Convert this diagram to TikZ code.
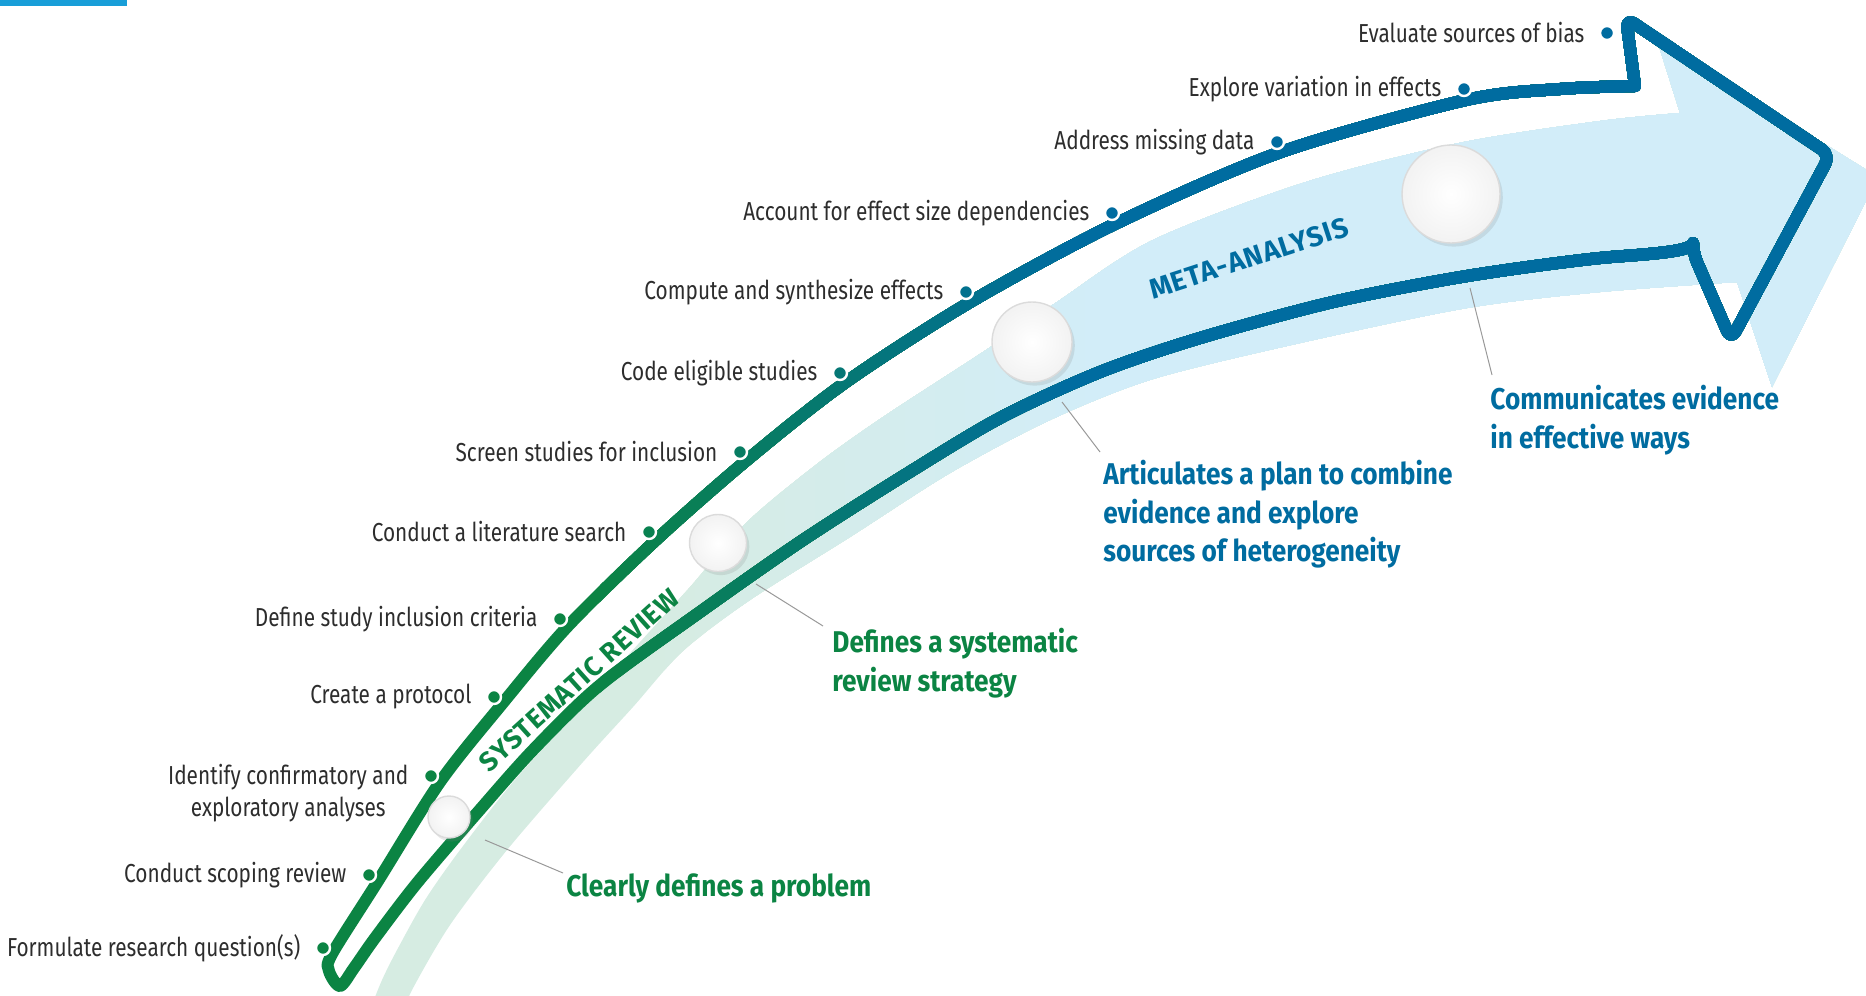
\documentclass[tikz,border=0pt]{standalone}
\usepackage{fontspec}
\setmainfont{Fira Sans}
\newfontfamily\stepfont{Fira Sans}[FakeStretch=0.8]
\newfontfamily\goalfont{Fira Sans}[FakeStretch=0.875]
\newfontfamily\phasefont{Fira Sans}[LetterSpace=3]
\usetikzlibrary{positioning,shadows}

\definecolor{srgreen}{RGB}{11,132,67}
\definecolor{mablue}{RGB}{0,108,160}
\definecolor{bandgreen}{RGB}{214,236,226}
\definecolor{bandblue}{RGB}{210,237,249}
\definecolor{topbar}{RGB}{24,158,216}
\definecolor{steptext}{RGB}{45,45,45}

% light band behind the arrow
\newcommand{\bandshape}{(370,1010) -- plot[smooth] coordinates {(370,1010) (382,980) (397,950) (425,900) (460,850) (513,782) (577,712) (640,642) (690,587) (747,522) (817,464) (883,417) (983,352) (1057,302) (1153,240) (1306,182) (1459,143) (1600,121) (1680,113)} -- (1657,40) -- (1878,177) -- (1772,387) -- (1737,282) -- plot[smooth] coordinates {(1737,282) (1600,292) (1467,308) (1300,343) (1153,379) (1050,420) (950,473) (850,537) (750,600) (683,651) (633,707) (583,762) (507,850) (450,925) (412,990) (405,1010)} -- cycle}
% outline of the arrow
\newcommand{\arrowline}{plot[smooth] coordinates {(1693,253) (1600,258) (1467,276) (1333,302) (1200,338) (1100,372) (1000,418) (900,478) (800,542) (700,612) (600,685) (533,750) (477,813) (417,883) (375,938) (354,968) (340,986) (329,971) (332,954) (378,881) (440,782) (502,704) (568,626) (656,540) (747,460) (846,382) (972,301) (1117,223) (1281,152) (1466,100) (1560,89) (1635,86)} [rounded corners=5pt] -- (1626,18) -- (1830,155) -- (1731,340) -- cycle}

\tikzset{
	stepdot/.style={circle, fill=#1, draw=white, line width=1.2pt, minimum size=7pt, inner sep=0pt},
	steplabel/.style={font=\stepfont\fontsize{13}{16}\selectfont, text=steptext, inner sep=0pt},
	goal/.style={font=\goalfont\bfseries\fontsize{15}{19.25}\selectfont, text=#1, inner sep=0pt, align=left},
	phase/.style={font=\phasefont\bfseries\fontsize{13.5}{15}\selectfont, text=#1, inner sep=0pt},
	milestone/.style={circle, draw=black!14, line width=0.7pt, inner color=white, outer color=black!5, inner sep=0pt, minimum size=#1, drop shadow={shadow xshift=1.4pt, shadow yshift=-1.8pt, opacity=0.18}},
	leader/.style={draw=black!40, line width=0.5pt}
}

\begin{document}
\begin{tikzpicture}[x=0.5pt,y=-0.5pt]
	\useasboundingbox (0,0) rectangle (1866,995);
	\clip (0,0) rectangle (1866,995);
	\fill[topbar] (0,0) rectangle (127,6);

	% band, green to blue from left to right
	\fill[bandgreen] \bandshape;
	\foreach \i in {1,...,30}{
		\pgfmathsetmacro\pc{100*\i/30}
		\begin{scope}
			\clip (650+15*\i,-20) rectangle (1900,1020);
			\fill[bandblue!\pc!bandgreen] \bandshape;
		\end{scope}
	}

	% arrow outline, same colour change
	\draw[srgreen, line width=6pt, line join=round] \arrowline;
	\foreach \i in {1,...,24}{
		\pgfmathsetmacro\pc{100*\i/24}
		\begin{scope}
			\clip (580+20*\i,-20) rectangle (1900,1020);
			\draw[mablue!\pc!srgreen, line width=6pt, line join=round] \arrowline;
		\end{scope}
	}

	% milestones
	\node[milestone=21pt] (c1) at (449,817) {};
	\node[milestone=28.5pt] (c2) at (718,543) {};
	\node[milestone=40pt] (c3) at (1032,342) {};
	\node[milestone=49pt] (c4) at (1451,194) {};

	% steps along the upper edge
	\foreach \x/\y [count=\n] in {323/948, 369/875, 431/776, 494/697, 560/619, 649/532, 740/452, 840/373, 966/292, 1112/213, 1277/142, 1464/89, 1607/33}{
		\pgfmathsetmacro\pc{max(0,min(100,(\x-580)/4.8))}
		\node[stepdot=mablue!\pc!srgreen] (d\n) at (\x,\y) {};
	}
	\foreach \n/\txt in {1/Formulate research question(s), 2/Conduct scoping review, 4/Create a protocol, 5/Define study inclusion criteria, 6/Conduct a literature search, 7/Screen studies for inclusion, 8/Code eligible studies, 9/Compute and synthesize effects, 10/Account for effect size dependencies, 11/Address missing data, 12/Explore variation in effects, 13/Evaluate sources of bias}
		\node[steplabel, left=7pt of d\n] (l\n) {\txt};
	\node[steplabel, align=center, anchor=north east] (l3) at ([xshift=-7pt, yshift=6.3pt]d3.west) {Identify confirmatory and\\exploratory analyses};

	% phases
	\node[phase=srgreen, rotate=42] (sr) at (579,680) {SYSTEMATIC REVIEW};
	\node[phase=mablue, rotate=18, font=\phasefont\bfseries\fontsize{14}{15}\selectfont] (ma) at (1249,258) {META-ANALYSIS};

	% goals with leaders
	\coordinate (s1) at (485,840);
	\coordinate (e1) at (563,873);
	\coordinate (s2) at (756,584);
	\coordinate (e2) at (823,626);
	\coordinate (s3) at (1062,402);
	\coordinate (e3) at (1100,452);
	\coordinate (s4) at (1470,288);
	\coordinate (e4) at (1492,375);
	\node[goal=srgreen, below right=0pt and 1.5pt of e1] (g1) {Clearly defines a problem};
	\node[goal=srgreen, below right=1pt and 4.5pt of e2] (g2) {Defines a systematic\\review strategy};
	\node[goal=mablue, below right=4pt and 1.5pt of e3] (g3) {Articulates a plan to combine\\evidence and explore\\sources of heterogeneity};
	\node[goal=mablue, below right=5pt and -1pt of e4] (g4) {Communicates evidence\\in effective ways};
	\draw[leader] (s1) -- (e1);
	\draw[leader] (s2) -- (e2);
	\draw[leader] (s3) -- (e3);
	\draw[leader] (s4) -- (e4);
\end{tikzpicture}
\end{document}
